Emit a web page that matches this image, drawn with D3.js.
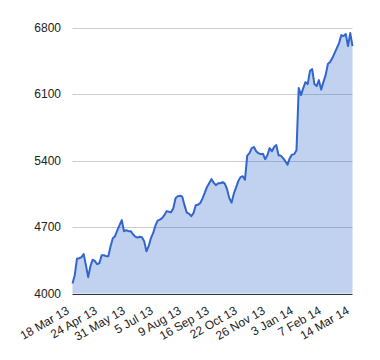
<!DOCTYPE html>
<html><head><meta charset="utf-8">
<script src="https://cdn.jsdelivr.net/npm/d3@7"></script>
<style>body{margin:0;background:#fff}svg{display:block}</style>
</head><body><svg id="c" width="380" height="360"></svg>
<script>
// closing values sampled every 2 trading days (index = 2*k)
const values = [4105,4193,4366,4372,4382,4414,4298,4172,4287,4356,
4340,4308,4319,4403,4403,4393,4393,4498,4582,4603,
4666,4719,4772,4656,4666,4656,4656,4624,4598,4588,
4598,4593,4551,4445,4498,4582,4635,4714,4767,4777,
4793,4824,4867,4861,4856,4898,5003,5025,5030,5019,
4930,4851,4840,4814,4845,4930,4935,4951,4998,5056,
5119,5161,5204,5167,5140,5161,5161,5172,5156,5098,
5004,4956,5051,5114,5183,5225,5235,5198,5451,5477,
5530,5541,5498,5477,5467,5472,5414,5456,5530,5498,
5541,5562,5456,5451,5425,5393,5356,5425,5462,5467,
5509,6162,6088,6162,6225,6204,6341,6362,6204,6183,
6246,6146,6225,6299,6415,6436,6478,6531,6583,6636,
6720,6710,6731,6604,6741,6604];
const tickLabels = ["18 Mar 13","24 Apr 13","31 May 13","5 Jul 13","9 Aug 13","16 Sep 13","22 Oct 13","26 Nov 13","3 Jan 14","7 Feb 14","14 Mar 14"];
const tickIndex = [0,25,50,75,100,125,150,175,200,225,250];
const yTicks = [4000,4700,5400,6100,6800];

const data = values.map((v,k)=>({i:k*2, v}));
const svg = d3.select("#c");
const font = "Arial, 'Liberation Sans', sans-serif";
const x = d3.scaleLinear().domain([0,250]).range([72.5,352.5]);
const y = d3.scaleLinear().domain([4000,6800]).range([293.5,27.5]);

// gridlines
svg.append("g").selectAll("line").data(yTicks.slice(1)).join("line")
  .attr("x1",72.5).attr("x2",352.5)
  .attr("y1",d=>Math.round(y(d))+0.5).attr("y2",d=>Math.round(y(d))+0.5)
  .attr("stroke","#cccccc").attr("stroke-width",1);

// area
svg.append("path").datum(data)
  .attr("d", d3.area().x(d=>x(d.i)).y0(y(4000)).y1(d=>y(d.v)))
  .attr("fill","#3366cc").attr("fill-opacity",0.3);
// line
svg.append("path").datum(data)
  .attr("d", d3.line().x(d=>x(d.i)).y(d=>y(d.v)))
  .attr("fill","none").attr("stroke","#3366cc").attr("stroke-width",2)
  .attr("stroke-linejoin","round");

// baseline
svg.append("line").attr("x1",72.5).attr("x2",352.5)
  .attr("y1",Math.round(y(4000))+0.5).attr("y2",Math.round(y(4000))+0.5)
  .attr("stroke","#333333").attr("stroke-width",1);

// y axis labels
const ya = svg.append("g").attr("transform","translate(61,0)")
  .call(d3.axisLeft(y).tickValues(yTicks).tickSize(0).tickPadding(0).tickFormat(d3.format("d")));
ya.select(".domain").remove();
ya.selectAll("text").attr("font-family",font).attr("font-size",12).attr("fill","#222222");

// x axis labels
const xa = svg.append("g")
  .call(d3.axisBottom(x).tickValues(tickIndex).tickSize(0).tickFormat((d,i)=>tickLabels[i]));
xa.select(".domain").remove();
xa.selectAll(".tick").attr("transform",d=>`translate(${x(d)-2.5},313)`);
xa.selectAll("text").attr("font-family",font).attr("font-size",12).attr("fill","#222222")
  .attr("y",0).attr("dy",0).attr("text-anchor","end").attr("transform","rotate(-30)");
</script></body></html>
